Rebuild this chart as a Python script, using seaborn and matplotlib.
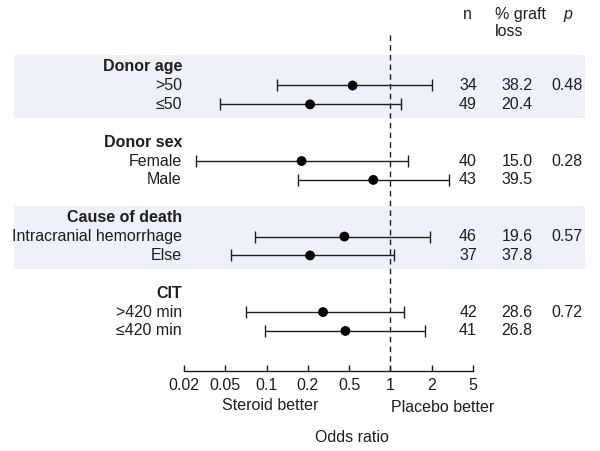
import numpy as np
import pandas as pd
import matplotlib
matplotlib.use('Agg')
import matplotlib.pyplot as plt
import seaborn as sns

# data
groups = ['Donor age', 'Donor sex', 'Cause of death', 'CIT']
subgroups = ['>50', '≤50', 'Female', 'Male',
             'Intracranial hemorrhage', 'Else', '>420 min', '≤420 min']
odds = [0.53, 0.21, 0.18, 0.75, 0.45, 0.21, 0.28, 0.46]
ci_low = [0.12, 0.044, 0.026, 0.17, 0.082, 0.055, 0.071, 0.097]
ci_high = [2.02, 1.20, 1.35, 2.93, 1.94, 1.07, 1.25, 1.78]
n_vals = ['34', '49', '40', '43', '46', '37', '42', '41']
graft_loss = ['38.2', '20.4', '15.0', '39.5', '19.6', '37.8', '28.6', '26.8']
p_vals = ['0.48', '0.28', '0.57', '0.72']
tick_vals = [0.02, 0.05, 0.1, 0.2, 0.5, 1, 2, 5]
tick_labels = ['0.02', '0.05', '0.1', '0.2', '0.5', '1', '2', '5']

sns.set_theme(style='white')
plt.rcParams['font.family'] = ['Liberation Sans', 'DejaVu Sans']
txt = '#1e1e1e'
fs = 11.5

# row positions: header, two subgroups, blank
header_rows = [4 * g for g in range(len(groups))]
sub_rows = [4 * (i // 2) + 1 + i % 2 for i in range(len(subgroups))]

df = pd.DataFrame({'odds': odds, 'row': sub_rows})

fig = plt.figure(figsize=(6, 4.51), dpi=100)
W, H = 600, 451
ax = fig.add_axes([184 / W, (H - 371) / H, 289 / W, 338 / H])
ax.patch.set_visible(False)

# evenly spaced log-like axis, as in the reference
log_t = np.log10(tick_vals)
idx = np.arange(len(tick_vals), dtype=float)

def fwd(x):
    x = np.clip(np.asarray(x, dtype=float), 1e-6, None)
    return np.interp(np.log10(x), log_t, idx)

def inv(y):
    return 10 ** np.interp(np.asarray(y, dtype=float), idx, log_t)

ax.set_xscale('function', functions=(fwd, inv))
ax.set_xlim(0.02, 5)
ax.set_ylim(16.12, -1.78)

# shaded bands for groups 1 and 3
for g in [0, 2]:
    ax.axhspan(4 * g - 0.6, 4 * g + 2.72, xmin=(14 - 184) / 289, xmax=(585 - 184) / 289,
               color='#eff1f8', zorder=0, clip_on=False, lw=0)

ax.axvline(1, color=txt, lw=1, ls=(0, (4, 3)), zorder=1)

xerr = [np.array(odds) - np.array(ci_low), np.array(ci_high) - np.array(odds)]
ax.errorbar(odds, sub_rows, xerr=xerr, fmt='none', ecolor=txt, elinewidth=1,
            capsize=4, capthick=1, zorder=2)
sns.scatterplot(data=df, x='odds', y='row', color='black', s=50, edgecolor='none',
                zorder=3, ax=ax, legend=False)

trans = ax.get_yaxis_transform()
def fx(px):
    return (px - 184) / 289

for g, name in enumerate(groups):
    ax.text(fx(182), header_rows[g], name, transform=trans, ha='right', va='center',
            fontsize=fs, fontweight='bold', color=txt, clip_on=False)
    ax.text(fx(567), header_rows[g] + 1, p_vals[g], transform=trans, ha='center',
            va='center', fontsize=fs, color=txt, clip_on=False)
for i, name in enumerate(subgroups):
    r = sub_rows[i]
    ax.text(fx(182), r, name, transform=trans, ha='right', va='center',
            fontsize=fs, color=txt, clip_on=False)
    ax.text(fx(468), r, n_vals[i], transform=trans, ha='center', va='center',
            fontsize=fs, color=txt, clip_on=False)
    ax.text(fx(517), r, graft_loss[i], transform=trans, ha='center', va='center',
            fontsize=fs, color=txt, clip_on=False)

# column headers
ax.text(fx(467), -2.74, 'n', transform=trans, ha='center', va='center',
        fontsize=fs, color=txt, clip_on=False)
ax.text(fx(495), -2.74, '% graft', transform=trans, ha='left', va='center',
        fontsize=fs, color=txt, clip_on=False)
ax.text(fx(495), -1.84, 'loss', transform=trans, ha='left', va='center',
        fontsize=fs, color=txt, clip_on=False)
ax.text(fx(568), -2.74, 'p', transform=trans, ha='center', va='center',
        fontsize=fs, color=txt, style='italic', clip_on=False)

# axis styling
for s in ['top', 'right', 'left']:
    ax.spines[s].set_visible(False)
ax.spines['bottom'].set_color(txt)
ax.spines['bottom'].set_linewidth(1)
ax.set_yticks([])
ax.set_xticks(tick_vals)
ax.set_xticklabels(tick_labels)
ax.xaxis.set_minor_locator(matplotlib.ticker.NullLocator())
ax.tick_params(axis='x', direction='in', length=4, width=1, color=txt,
               labelsize=fs, labelcolor=txt, pad=5, bottom=True)
ax.set_xlabel('')
ax.set_ylabel('')

fig.text(270 / W, 1 - 406 / H, 'Steroid better', ha='center', va='center',
         fontsize=fs, color=txt)
fig.text(443 / W, 1 - 408 / H, 'Placebo better', ha='center', va='center',
         fontsize=fs, color=txt)
fig.text(352 / W, 1 - 437 / H, 'Odds ratio', ha='center', va='center',
         fontsize=fs, color=txt)

fig.savefig('out.png', dpi=100, facecolor='white')
